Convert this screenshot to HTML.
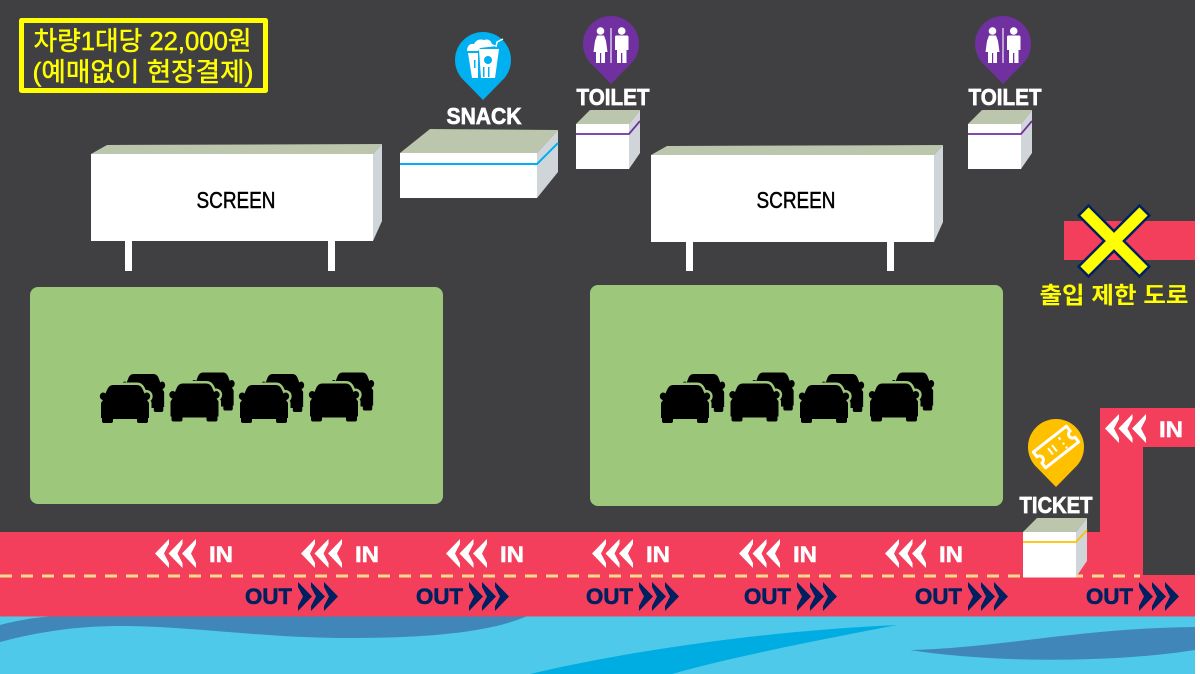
<!DOCTYPE html>
<html><head><meta charset="utf-8"><style>
html,body{margin:0;padding:0;background:#fff}
svg{display:block}
text{font-family:"Liberation Sans","Noto Sans CJK KR",sans-serif}
</style></head><body>
<svg xmlns="http://www.w3.org/2000/svg" width="1200" height="674" viewBox="0 0 1200 674">
<defs>
<path id="c" d="M13 0H37Q41 0 43 5L44.500 8.500Q45.500 7.500 47 7.500A3.800 3.800 0 0 1 47 15L49 18V33H48V36Q48 38 46 38H39Q37 38 37 36V34H13V36Q13 38 11 38H4Q2 38 2 36V33H1V18L3 15A3.800 3.800 0 0 1 3 7.500Q4.500 7.500 5.500 8.500L7 5Q9 0 13 0Z"/>
<g id="car">
<use href="#c" transform="translate(22,-11) scale(.86,1)" fill="#000"/>
<use href="#c" fill="none" stroke="#9dc77b" stroke-width="5"/>
<use href="#c" fill="#000"/>
</g>
<g id="cars">
<use href="#car" x="0" y="0"/><use href="#car" x="69.500" y="-1.500"/><use href="#car" x="139" y="0"/><use href="#car" x="209" y="-1.500"/>
</g>
<path id="l" d="M0 14.500L14 0V5L9 14.500L14 24V29Z"/>
<g id="inn" fill="#fff">
<use href="#l"/><use href="#l" x="13.500"/><use href="#l" x="27"/>
<text x="54" y="23" font-size="22" font-weight="700" stroke="#fff" stroke-width=".5" textLength="24" lengthAdjust="spacingAndGlyphs">IN</text>
</g>
<path id="r" d="M14 14.500L0 0V5L5 14.500L0 24V29Z"/>
<g id="out" fill="#002060">
<text x="0" y="22" font-size="22" font-weight="700" stroke="#002060" stroke-width=".6" textLength="47" lengthAdjust="spacingAndGlyphs">OUT</text>
<use href="#r" x="53"/><use href="#r" x="66"/><use href="#r" x="79"/>
</g>
<g id="wc" fill="#fff">
<circle cx="-10.500" cy="-13" r="3.800"/><circle cx="10.700" cy="-13" r="3.800"/>
<path d="M-14 -8.500H-7L-5 -3L-3.500 8H-6V19H-9.800V9H-11V19H-15V8H-17.500L-16 -3Z"/>
<path d="M5.500 -8.500H16Q17.500 -8.500 17.500 -7V6H15.500V19H11.300V9H10V19H6V6H4V-7Q4 -8.500 5.500 -8.500Z"/>
<rect x="-.750" y="-16" width="1.500" height="35" fill="#d8c8e8"/>
</g>
</defs>

<rect width="1200" height="674" fill="#404042"/>

<!-- lots -->
<rect x="30" y="287" width="413" height="217" rx="8" fill="#9dc77b"/>
<rect x="590" y="285" width="413" height="221" rx="8" fill="#9dc77b"/>
<use href="#cars" x="100" y="385"/>
<use href="#cars" x="660" y="385"/>

<!-- screens -->
<g>
<rect x="125" y="241" width="7" height="30" fill="#fff"/><rect x="328" y="241" width="7" height="30" fill="#fff"/>
<polygon points="91,154 107,145 382,144 373,154" fill="#bcc6ad"/>
<polygon points="373,154 382,144 382,221 373,241" fill="#d0d5d9"/>
<rect x="91" y="154" width="282" height="87" fill="#fff"/>
<text x="236" y="208" font-size="23" text-anchor="middle" stroke="#000" stroke-width=".5" textLength="79" lengthAdjust="spacingAndGlyphs" fill="#000">SCREEN</text>
</g>
<g>
<rect x="686" y="242" width="7" height="29" fill="#fff"/><rect x="887" y="242" width="7" height="29" fill="#fff"/>
<polygon points="651,155 667,146 943,145 934,155" fill="#bcc6ad"/>
<polygon points="934,155 943,145 943,222 934,242" fill="#d0d5d9"/>
<rect x="651" y="155" width="283" height="87" fill="#fff"/>
<text x="796" y="208" font-size="23" text-anchor="middle" stroke="#000" stroke-width=".5" textLength="79" lengthAdjust="spacingAndGlyphs" fill="#000">SCREEN</text>
</g>

<!-- snack booth -->
<polygon points="400,153 430,129 558,130 537,153" fill="#bcc6ad"/>
<polygon points="537,153 558,130 558,172 537,198" fill="#d0d5d9"/>
<rect x="400" y="153" width="137" height="45" fill="#fff"/>
<polyline points="400,164 537,164 558,143" fill="none" stroke="#00b0f0" stroke-width="2"/>

<!-- toilet booths -->
<g id="tb">
<polygon points="576,124 590,110 640,110 629,124" fill="#bcc6ad"/>
<polygon points="629,124 640,110 640,153 629,169" fill="#d0d5d9"/>
<rect x="576" y="124" width="53" height="45" fill="#fff"/>
<polyline points="576,134 629,134 640,121" fill="none" stroke="#7030a0" stroke-width="1.800"/>
</g>
<use href="#tb" x="392"/>

<!-- pins -->
<path d="M483 100L463.200 79.800A28 28 0 1 1 502.800 79.800Z" fill="#00b0f0"/>
<g fill="#fff">
<path d="M467 50Q468 43 474 44Q477 38 484 40Q490 38 492 44L497 46L480 48L478 51H467Z"/>
<path d="M468 53H478V78H472Z"/>
<path d="M479 49H499L495 78H481Z"/>
<path d="M496 47L497 42L503 39" fill="none" stroke="#fff" stroke-width="1.500"/>
<circle cx="488" cy="60" r="4" fill="#00b0f0"/>
<rect x="483" y="67" width="1.500" height="10" fill="#00b0f0"/><rect x="488" y="67" width="1.500" height="10" fill="#00b0f0"/>
<rect x="474" y="60" width="1.500" height="8" fill="#00b0f0"/>
</g>

<path d="M611 84L591.200 63.800A28 28 0 1 1 630.800 63.800Z" fill="#7030a0"/>
<use href="#wc" x="611" y="44"/>
<path d="M1003 84L983.200 63.800A28 28 0 1 1 1022.800 63.800Z" fill="#7030a0"/>
<use href="#wc" x="1003" y="44"/>

<!-- labels -->
<g fill="#fff" stroke="#fff" stroke-width=".7" font-weight="700" font-size="23" text-anchor="middle">
<text x="484" y="124" textLength="75" lengthAdjust="spacingAndGlyphs">SNACK</text>
<text x="613" y="105" textLength="73" lengthAdjust="spacingAndGlyphs">TOILET</text>
<text x="1005" y="105" textLength="73" lengthAdjust="spacingAndGlyphs">TOILET</text>
</g>

<!-- price box -->
<rect x="21.500" y="20.500" width="244" height="70" fill="none" stroke="#ffff00" stroke-width="5" stroke-linejoin="round"/>
<text x="142.500" y="50" font-size="26" text-anchor="middle" fill="#ffff00" stroke="#ffff00" stroke-width=".5" textLength="218" lengthAdjust="spacingAndGlyphs">차량1대당 22,000원</text>
<text x="143" y="81" font-size="26" text-anchor="middle" fill="#ffff00" stroke="#ffff00" stroke-width=".5" textLength="221" lengthAdjust="spacingAndGlyphs">(예매없이 현장결제)</text>

<!-- restricted -->
<rect x="1064" y="221" width="131" height="39" fill="#f43f5c"/>
<g transform="translate(1114,241) rotate(45)">
<path d="M-7 -43H7V-7H43V7H7V43H-7V7H-43V-7H-7Z" fill="#ffff00" stroke="#002060" stroke-width="2.500"/>
</g>
<text x="1114" y="303" font-size="23" font-weight="700" text-anchor="middle" fill="#ffff00" textLength="149" lengthAdjust="spacingAndGlyphs">출입 제한 도로</text>

<!-- roads -->
<path d="M0 532H1100V408H1195V447H1143V575H1195V616.500H0Z" fill="#f43f5c"/>
<line x1="0" y1="576" x2="1140" y2="576" stroke="#ffd88a" stroke-width="3" stroke-dasharray="12 9"/>

<use href="#inn" x="155" y="539"/><use href="#inn" x="301" y="539"/><use href="#inn" x="446" y="539"/>
<use href="#inn" x="592" y="539"/><use href="#inn" x="739" y="539"/><use href="#inn" x="885" y="539"/>
<use href="#inn" x="1105" y="414"/>

<use href="#out" x="245" y="582"/><use href="#out" x="416" y="582"/><use href="#out" x="586" y="582"/>
<use href="#out" x="744" y="582"/><use href="#out" x="915" y="582"/><use href="#out" x="1086" y="582"/>

<!-- ticket booth -->
<polygon points="1023,532 1037,518 1087,518 1076,532" fill="#bcc6ad"/>
<polygon points="1076,532 1087,518 1087,561 1076,577" fill="#d0d5d9"/>
<rect x="1023" y="532" width="53" height="45.500" fill="#fff"/>
<polyline points="1023,542 1076,542 1087,530" fill="none" stroke="#ffc000" stroke-width="1.800"/>
<path d="M1056 487L1036.200 466.800A28 28 0 1 1 1075.800 466.800Z" fill="#ffc000"/>
<g transform="translate(1056,447) rotate(-38)" fill="none" stroke="#fff" stroke-width="3" stroke-linejoin="round">
<path d="M-21 -10H21V-4A4 4 0 0 0 21 4V10H-21V4A4 4 0 0 0 -21 -4Z"/>
<path d="M-7 -4V4M-2 -4V4" stroke-width="2"/>
<path d="M8 -6V-3M8 1V3M8 6V8" stroke-width="2"/>
</g>
<text x="1056" y="513" font-size="23" font-weight="700" text-anchor="middle" fill="#fff" stroke="#fff" stroke-width=".7" textLength="73" lengthAdjust="spacingAndGlyphs">TICKET</text>

<!-- water -->
<rect x="0" y="616.500" width="1195" height="58" fill="#4fc9ea"/>
<path d="M50 616.500H526C490 632 430 638 350 638C260 638 190 626 120 626C70 626 30 634 0 642V625C15 621 30 618 50 616.500Z" fill="#4186b8"/>
<path d="M530 674C640 648 780 630 897 625C820 640 740 655 672 674Z" fill="#00ade3"/>
<path d="M910 650C1000 648 1080 628 1195 627V650C1120 662 1000 664 910 650Z" fill="#4186b8"/>

<!-- right edge -->
<rect x="1195" y="0" width="5" height="674" fill="#fff"/>
</svg>
</body></html>
